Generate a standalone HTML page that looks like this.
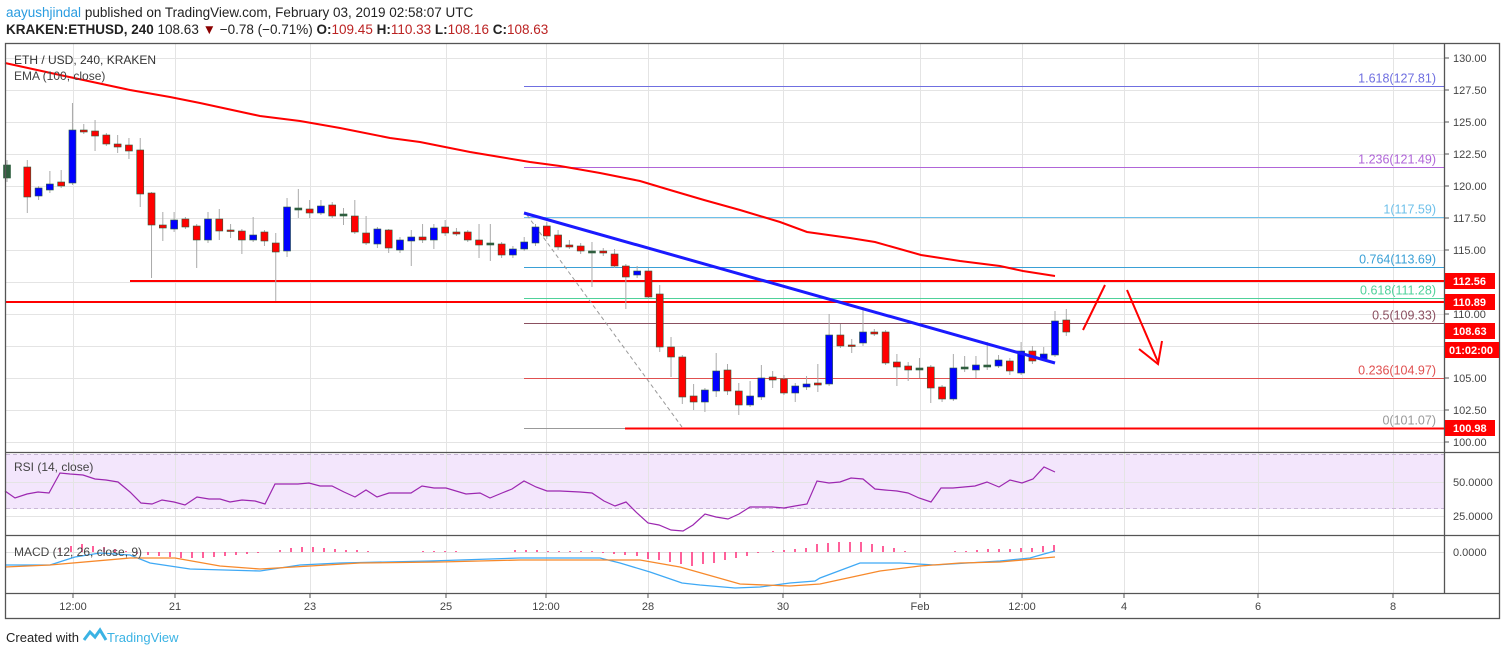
<!DOCTYPE html>
<html><head><meta charset="utf-8"><style>
body{margin:0;background:#fff;width:1508px;height:655px;overflow:hidden;font-family:"Liberation Sans",sans-serif}
svg{position:absolute;left:0;top:0}
</style></head><body>
<svg id="s" width="1508" height="655" xmlns="http://www.w3.org/2000/svg" font-family="Liberation Sans, sans-serif">
<text x="6" y="17" font-size="13.5" fill="#222"><tspan fill="#2a9ce0">aayushjindal</tspan> published on TradingView.com, February 03, 2019 02:58:07 UTC</text>
<text x="6" y="34" font-size="13.5" fill="#222"><tspan font-weight="bold">KRAKEN:ETHUSD, 240</tspan> 108.63 <tspan fill="#8b0000">▼</tspan> −0.78 (−0.71%) <tspan font-weight="bold">O:</tspan><tspan fill="#b22">109.45</tspan> <tspan font-weight="bold">H:</tspan><tspan fill="#b22">110.33</tspan> <tspan font-weight="bold">L:</tspan><tspan fill="#b22">108.16</tspan> <tspan font-weight="bold">C:</tspan><tspan fill="#b22">108.63</tspan></text>
<rect x="6" y="454" width="1438" height="55" fill="#f3e6fc"/>
<g id="grid" stroke="#e4e4e4" stroke-width="1"></g>
<line x1="6" y1="454.5" x2="1444" y2="454.5" stroke="#c9b8d6" stroke-dasharray="4,3"/>
<line x1="6" y1="508.5" x2="1444" y2="508.5" stroke="#c9b8d6" stroke-dasharray="4,3"/>
<line x1="6" y1="552.5" x2="1444" y2="552.5" stroke="#e0e0e0"/>
<g id="fib"></g>
<line x1="130" y1="281" x2="1444" y2="281" stroke="#ff0000" stroke-width="2"/>
<line x1="6" y1="302" x2="1444" y2="302" stroke="#ff0000" stroke-width="2"/>
<line x1="625" y1="428.5" x2="1444" y2="428.5" stroke="#ff0000" stroke-width="2"/>
<line x1="527" y1="215" x2="682" y2="427" stroke="#999" stroke-dasharray="4,3"/>
<polyline fill="none" stroke="#ff0000" stroke-width="2" points="5,63 60,75 130,90 170,97 200,103 260,116 300,121 340,128 390,138 420,142 470,152 500,157 530,162 560,166 600,173 640,181 670,190 704,200 740,210 780,222 807,232 850,238 875,242 921,255 960,261 1000,266 1023,271 1055,276"/>
<g id="candles"></g>
<line x1="524" y1="213" x2="1055" y2="363" stroke="#1a1aff" stroke-width="3"/>
<g stroke="#ff0000" stroke-width="2" fill="none">
<line x1="1083" y1="330" x2="1105" y2="285"/>
<line x1="1127" y1="290" x2="1158" y2="362"/>
<polyline points="1139,349 1158,364 1162,341"/>
</g>
<polyline id="rsi" fill="none" stroke="#9c27b0" stroke-width="1.2"/>
<g id="hist" stroke="#ff2a78" stroke-width="1.5"></g>
<polyline fill="none" stroke="#3fa9f5" stroke-width="1.3" points="5,565 50,565 75,557 100,553 130,555 150,563 190,569 260,571 300,565 340,563 430,561 520,558 600,558 620,563 650,572 682,583 700,585 735,588 760,587 790,583 815,581 820,578 860,563 900,563 935,565 1000,561 1030,558 1044,554 1055,551"/>
<polyline fill="none" stroke="#f7892b" stroke-width="1.3" points="5,567 50,565 130,558 175,558 220,566 260,569 310,566 360,563 440,562 520,560 620,560 640,560 680,567 740,584 790,586 820,584 880,571 920,566 960,563 1000,562 1055,557"/>
<g stroke="#555" stroke-width="1.3" fill="none">
<rect x="5.5" y="43.5" width="1494" height="575"/>
<line x1="1444.5" y1="43" x2="1444.5" y2="593"/>
<line x1="5" y1="452.5" x2="1500" y2="452.5"/>
<line x1="5" y1="535.5" x2="1500" y2="535.5"/>
<line x1="5" y1="593.5" x2="1500" y2="593.5"/>
</g>
<g id="axis" font-size="11" fill="#444"></g>
<text x="14" y="64" font-size="12" fill="#333">ETH / USD, 240, KRAKEN</text>
<text x="14" y="80" font-size="12" fill="#444">EMA (100, close)</text>
<text x="14" y="471" font-size="12" fill="#444">RSI (14, close)</text>
<text x="14" y="556" font-size="12" fill="#444">MACD (12, 26, close, 9)</text>
<g id="tags" font-size="11" font-weight="bold" fill="#fff"></g>
<text x="6" y="642" font-size="13" fill="#222">Created with</text>
<path d="M84,640 l6,-8 5,5 5,-7 6,10" fill="none" stroke="#3bb3e4" stroke-width="3"/>
<text x="107" y="642" font-size="13" fill="#3bb3e4">TradingView</text>
</svg>
<script>
const NS="http://www.w3.org/2000/svg";
function el(p,t,a,txt){const e=document.createElementNS(NS,t);for(const k in a)e.setAttribute(k,a[k]);if(txt!==undefined)e.textContent=txt;document.getElementById(p).appendChild(e);return e;}
const py=p=>58+(130-p)*12.8;
const vx=[73,175,310,446,546,648,783,920,1022,1124,1258,1393];
vx.forEach(x=>el("grid","line",{x1:x+.5,y1:43,x2:x+.5,y2:593}));
for(let p=100;p<=130;p+=2.5){const y=Math.round(py(p))+.5;el("grid","line",{x1:6,y1:y,x2:1444,y2:y});}
el("grid","line",{x1:6,y1:482.5,x2:1444,y2:482.5});
el("grid","line",{x1:6,y1:516.5,x2:1444,y2:516.5});
for(let p=100;p<=130;p+=2.5){const y=py(p);el("axis","line",{x1:1444,y1:y,x2:1449,y2:y,stroke:"#555"});el("axis","text",{x:1453,y:y+4},p.toFixed(2));}
el("axis","text",{x:1453,y:486},"50.0000");el("axis","text",{x:1453,y:520},"25.0000");
el("axis","text",{x:1453,y:556},"0.0000");
const tl=["12:00","21","23","25","12:00","28","30","Feb","12:00","4","6","8"];
tl.forEach((t,i)=>{el("axis","line",{x1:vx[i],y1:593,x2:vx[i],y2:598,stroke:"#555"});el("axis","text",{x:vx[i],y:610,"text-anchor":"middle"},t);});
const fib=[[127.81,"1.618(127.81)","#6f6fe0"],[121.49,"1.236(121.49)","#b065d8"],[117.59,"1(117.59)","#6ec0ea"],[113.69,"0.764(113.69)","#3aa0d6"],[111.28,"0.618(111.28)","#4fd19a"],[109.33,"0.5(109.33)","#8b5060"],[104.97,"0.236(104.97)","#e05050"],[101.07,"0(101.07)","#999"]];
fib.forEach(f=>{const y=Math.round(py(f[0]))+.5;el("fib","line",{x1:524,y1:y,x2:1444,y2:y,stroke:f[2]});el("fib","text",{x:1436,y:y-4,"text-anchor":"end","font-size":"12.5",fill:f[2]},f[1]);});
[[281,"112.56",1495],[302,"110.89",1495],[331,"108.63",1495],[350,"01:02:00",1499],[428,"100.98",1495]].forEach(t=>{el("tags","rect",{x:1445,y:t[0]-8,width:t[2]-1445,height:16,fill:"#ff0000"});el("tags","text",{x:t[1].length>6?1449:1453,y:t[0]+4},t[1]);});
const C=[[7,'g',165,178,160,182],[16,'r',167,197,160,213],[27,'b',188,196,186,200],[37,'b',184,190,171,193],[49,'r',182,186,170,188],[59,'b',130,183,103,185],[70,'r',130,132,124,134],[81,'r',131,136,120,151],[92,'r',135,144,133,146],[103,'r',144,147,135,153],[114,'r',145,151,138,159],[125,'r',150,194,138,207],[136,'r',193,225,192,278],[147,'r',225,228,212,241],[157,'b',220,229,212,232],[169,'r',219,227,217,229],[179,'r',226,240,224,268],[190,'b',219,240,212,243],[202,'r',219,231,209,240],[212,'r',230,231,224,238],[223,'r',231,240,229,254],[234,'b',235,240,217,242],[245,'r',232,241,230,246],[256,'r',243,252,233,301],[267,'b',207,251,198,257],[278,'g',208,210,189,218],[289,'r',209,213,200,218],[299,'b',206,213,200,215],[311,'r',205,216,202,218],[322,'g',214,216,208,225],[332,'r',216,232,200,234],[343,'r',233,243,216,245],[354,'b',229,244,227,248],[365,'r',230,248,229,253],[376,'b',240,250,237,253],[387,'b',237,241,230,266],[398,'r',237,240,224,243],[409,'b',228,240,224,249],[419,'r',227,233,220,236],[431,'r',232,234,228,236],[442,'r',232,240,230,242],[452,'r',240,245,224,258],[463,'g',243,245,224,261],[475,'r',244,255,242,258],[485,'b',249,255,246,258],[496,'b',242,249,237,251],[507,'b',227,243,224,246],[518,'r',226,236,222,239],
[530,'r',235,247,230,250],[541,'r',245,247,240,249],[552,'r',246,251,243,254],[563,'g',251,253,242,287],[574,'r',251,253,248,256],[585,'r',254,266,249,268],[596,'r',266,277,264,309],[607,'b',271,275,266,278],[618,'r',271,297,268,299],[629,'r',294,347,285,352],[640,'r',347,357,337,377],[651,'r',357,397,355,404],[662,'r',396,402,384,410],[673,'b',390,402,388,412],[684,'b',371,391,353,397],[695,'r',370,391,364,395],[706,'r',391,405,383,415],[717,'b',396,405,381,407],[728,'b',378,397,365,400],[739,'r',377,380,371,388],[750,'r',379,393,375,395],[761,'b',386,393,383,402],[772,'b',384,387,376,390],[783,'r',383,385,364,392],[794,'b',335,384,314,386],[805,'r',335,346,324,348],[816,'r',345,346,339,353],[827,'b',332,343,307,346],[838,'r',332,334,329,336],[849,'r',332,363,330,365],[860,'r',362,367,354,386],[871,'r',366,370,362,381],[882,'g',368,370,358,378],[893,'r',367,388,365,403],[904,'r',387,399,385,402],[915,'b',368,399,354,401],[926,'g',367,369,356,372],[937,'b',365,370,356,378],[948,'g',365,367,342,370],[959,'b',360,366,355,368],[970,'r',361,371,358,375],[981,'b',351,373,342,375],[992,'r',351,361,346,364],[1003,'b',354,359,347,361],[1044,'b',321,355,311,357],[1055,'r',320,332,309,336]];
const N=C.length;C.forEach((c,i)=>{c[0]=16+i*(1055-16)/(N-2);});C[0][0]=7;
C.forEach(c=>{const col=c[1]=='r'?'#ff0000':(c[1]=='b'?'#0000ff':'#2e5e3e');
el("candles","line",{x1:c[0],y1:c[4],x2:c[0],y2:c[5],stroke:"#aaa"});
el("candles","rect",{x:c[0]-3.5,y:c[2],width:7,height:Math.max(1.5,c[3]-c[2]),fill:col,stroke:"#2e5e3e","stroke-width":0.6});});
const R="5,491 15,498 27,494 38,492 49,493 60,473 70,474 83,475 95,479 106,480 118,482 130,492 141,503 152,504 162,500 174,502 185,505 197,497 209,499 220,499 230,502 242,500 255,501 265,504 275,484 298,484 309,483 320,486 332,486 344,492 355,497 366,490 377,497 389,493 400,493 411,493 422,486 434,488 446,488 466,494 480,493 490,498 502,493 512,489 524,481 536,487 547,491 560,491 580,492 592,493 604,501 615,506 626,502 637,513 648,523 659,525 671,530 683,531 693,525 705,514 716,517 728,519 739,514 750,507 761,507 772,507 784,508 795,506 807,504 817,481 829,483 840,482 851,478 863,479 875,489 885,490 897,491 908,493 919,498 931,502 941,488 953,488 964,487 975,486 987,482 999,487 1010,480 1022,483 1033,479 1044,467 1055,472";
document.getElementById("rsi").setAttribute("points",R);
const H=[[60,-4],[71,-6],[82,-8],[93,-6],[104,-5],[115,-3],[126,-1],[137,2],[148,3],[159,4],[170,5],[181,6],[192,6],[203,6],[214,5],[225,4],[236,3],[247,2],[258,1],[280,-2],[291,-4],[302,-5],[313,-5],[324,-4],[335,-3],[346,-2],[357,-2],[368,-1],[423,-1],[434,-1],[445,-1],[456,-1],[515,-2],[526,-2],[537,-2],[548,-1],[559,-1],[570,-1],[581,-1],[592,-1],[603,1],[614,2],[625,3],[637,4],[648,7],[659,8],[670,10],[681,12],[692,14],[703,12],[714,11],[725,8],[736,6],[747,4],[758,1],[773,-1],[784,-2],[795,-3],[806,-4],[817,-8],[828,-9],[839,-10],[850,-10],[861,-10],[872,-8],[883,-6],[894,-4],[905,-1],[955,-1],[966,-1],[977,-2],[988,-3],[999,-3],[1010,-3],[1021,-4],[1032,-4],[1043,-6],[1054,-7]];
H.forEach(h=>el("hist","line",{x1:h[0],y1:552,x2:h[0],y2:552+h[1]}));
</script>
</body></html>
